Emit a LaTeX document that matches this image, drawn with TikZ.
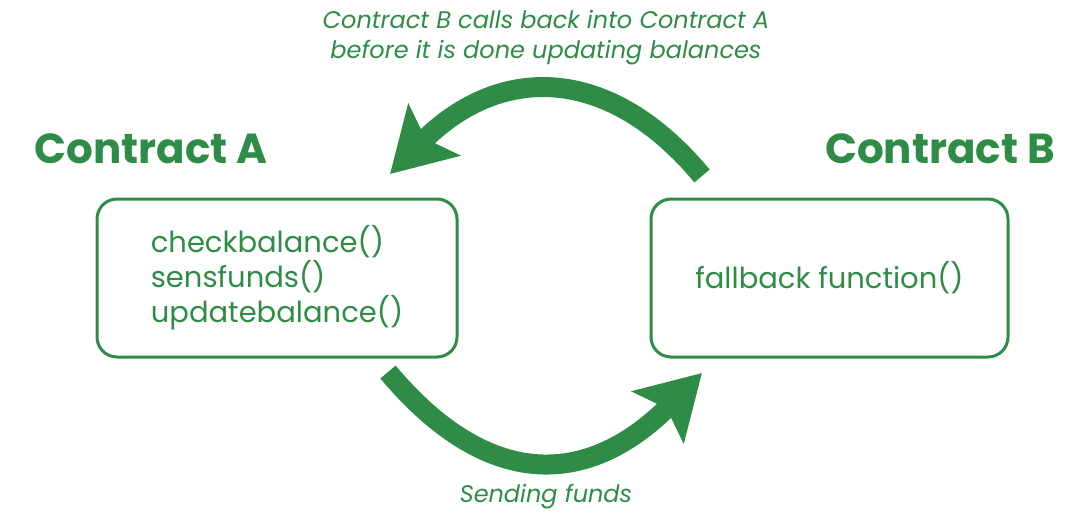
\documentclass[tikz,border=0pt]{standalone}
\usepackage{fontspec}
\setmainfont{Poppins}
\usetikzlibrary{arrows.meta}
\definecolor{leaf}{RGB}{47,140,70}
\tikzset{
  box/.style={draw=leaf, line width=3pt, rounded corners=20pt, text=leaf,
    font=\fontsize{29}{35}\selectfont, align=left, inner sep=0pt},
  title/.style={text=leaf, font=\fontsize{42}{48}\selectfont\bfseries, inner sep=0pt},
  note/.style={text=leaf, font=\fontsize{24}{30}\selectfont\itshape, align=center, inner sep=0pt},
  flow/.style={draw=leaf, line width=20pt,
    -{Stealth[length=62pt, width=72pt, inset=12pt, fill=leaf]}}
}
\begin{document}
\begin{tikzpicture}[x=1pt, y=-1pt]
  \useasboundingbox (0,0) rectangle (1076,512);
  % contract boxes
  \node[box, minimum width=360pt, minimum height=158pt] (A) at (277,278)
    {checkbalance()\\sensfunds()\\updatebalance()};
  \node[box, minimum width=357pt, minimum height=158pt] (B) at (829.5,278)
    {fallback function()};
  % headings
  \node[title] (tA) at (151,149) {Contract A};
  \node[title] (tB) at (940,149) {Contract B};
  % captions
  \node[note] (cTop) at (546,38)
    {Contract B calls back into Contract A\\before it is done updating balances};
  \node[note] (cBot) at (546,497) {Sending funds};
  % arrow ends
  \coordinate (backTail) at (702,176);
  \coordinate (backTip) at (390,174);
  \coordinate (sendTail) at (388,372);
  \coordinate (sendTip) at (702,373);
  % call back from B into A
  \draw[flow] (backTail) .. controls (609,64) and (500,64) .. (backTip);
  % funds sent from A to B
  \draw[flow] (sendTail) .. controls (486,489) and (586,489) .. (sendTip);
\end{tikzpicture}
\end{document}
